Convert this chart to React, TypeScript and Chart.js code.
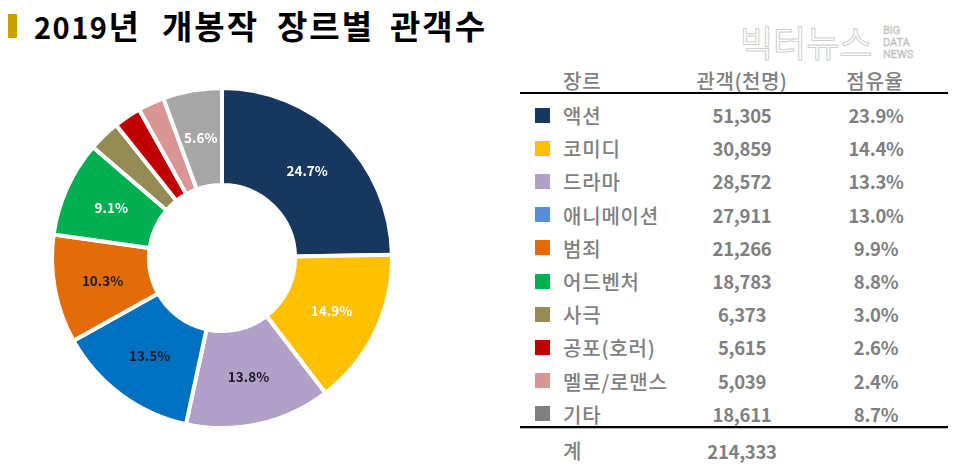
import React, { useEffect, useRef } from 'react';
import { Chart, registerables } from 'chart.js';
Chart.register(...registerables);

const genres = ['액션', '코미디', '드라마', '애니메이션', '범죄', '어드벤처', '사극', '공포(호러)', '멜로/로맨스', '기타'];
const audience = [51305, 30859, 28572, 27911, 21266, 18783, 6373, 5615, 5039, 18611];
const tableShare = [23.9, 14.4, 13.3, 13.0, 9.9, 8.8, 3.0, 2.6, 2.4, 8.7];
const pieShare = [24.7, 14.9, 13.8, 13.5, 10.3, 9.1, 3.0, 2.6, 2.5, 5.6];
const totalAudience = 214333;

const pieColors = ['#17375E', '#FFC000', '#B1A0C7', '#0070C0', '#E36C09', '#00B050', '#948A54', '#C00000', '#DA9694', '#A6A6A6'];
const legendColors = ['#17375E', '#FFC000', '#B1A0C7', '#558ED5', '#E36C09', '#00B050', '#948A54', '#C00000', '#DA9694', '#808080'];
const labelColors = ['#ffffff', '#ffffff', '#1a1a2a', '#1a1a2a', '#1a1a1a', '#ffffff', '#ffffff', '#ffffff', '#ffffff', '#ffffff'];

const FONT = '"Noto Sans CJK KR", "Noto Sans", sans-serif';
const fmt = (n: number) => n.toLocaleString('en-US');

const labelPlugin = {
  id: 'sliceLabels',
  afterDatasetsDraw(chart: any) {
    const ctx = chart.ctx;
    const meta = chart.getDatasetMeta(0);
    ctx.save();
    ctx.font = `bold 13.5px ${FONT}`;
    ctx.textAlign = 'center';
    ctx.textBaseline = 'middle';
    meta.data.forEach((arc: any, i: number) => {
      const v = pieShare[i];
      if (v < 5) return;
      const p = arc.tooltipPosition(false);
      ctx.fillStyle = labelColors[i];
      ctx.fillText(`${v.toFixed(1)}%`, p.x, p.y);
    });
    ctx.restore();
  },
};

function Doughnut() {
  const ref = useRef<HTMLCanvasElement | null>(null);
  useEffect(() => {
    if (!ref.current) return;
    const chart = new Chart(ref.current, {
      type: 'doughnut',
      data: {
        labels: genres,
        datasets: [
          {
            data: pieShare,
            backgroundColor: pieColors,
            borderColor: '#ffffff',
            borderWidth: 4,
          },
        ],
      },
      options: {
        animation: false,
        responsive: false,
        maintainAspectRatio: false,
        radius: 170,
        cutout: '43%',
        layout: { padding: 0 },
        plugins: { legend: { display: false }, tooltip: { enabled: false } },
      },
      plugins: [labelPlugin],
    });
    return () => chart.destroy();
  }, []);
  return (
    <canvas
      ref={ref}
      width={360}
      height={360}
      style={{ position: 'absolute', left: 42, top: 78, width: 360, height: 360 }}
    />
  );
}

export default function App() {
  const gray = '#7F7F7F';
  const rowTop = 115;
  const rowH = 33.2;
  const txt = { position: 'absolute', fontSize: 20, fontWeight: 500, color: gray, whiteSpace: 'nowrap', letterSpacing: 0.8 } as any;
  const num = { position: 'absolute', fontSize: 18.5, fontWeight: 700, color: gray, whiteSpace: 'nowrap', letterSpacing: -0.3, transform: 'translate(-50%,-50%)' } as any;
  const title = { position: 'absolute', top: 5, fontSize: 33, fontWeight: 700, color: '#000', lineHeight: '40px', whiteSpace: 'nowrap', letterSpacing: 2 } as any;
  return (
    <div style={{ position: 'fixed', left: 0, top: 0, width: 960, height: 472, background: '#fff', overflow: 'hidden', fontFamily: FONT }}>
      {/* title */}
      <div style={{ position: 'absolute', left: 8, top: 14, width: 9, height: 24, background: '#CDA000' }} />
      <div style={{ ...title, left: 34 }}>
        <span style={{ fontSize: 29, letterSpacing: 1.5 }}>2019</span>년
      </div>
      <div style={{ ...title, left: 162 }}>개봉작</div>
      <div style={{ ...title, left: 277 }}>장르별</div>
      <div style={{ ...title, left: 390 }}>관객수</div>
      {/* watermark */}
      <div style={{ position: 'absolute', left: 740, top: 18, fontSize: 36, fontWeight: 400, color: '#ffffff', WebkitTextStroke: '1px #cfcfcf', lineHeight: '46px', whiteSpace: 'nowrap' } as any}>
        빅터뉴스
      </div>
      <div style={{ position: 'absolute', left: 883, top: 25, fontSize: 11, color: '#fff', WebkitTextStroke: '0.6px #bdbdbd', lineHeight: '12px', fontFamily: 'Roboto, sans-serif' } as any}>
        BIG<br />DATA<br />NEWS
      </div>

      <Doughnut />

      {/* table header */}
      <div style={{ ...txt, left: 563, top: 80, transform: 'translateY(-50%)' }}>장르</div>
      <div style={{ ...txt, left: 742, top: 80, transform: 'translate(-50%,-50%)', letterSpacing: 0.5 }}>관객(천명)</div>
      <div style={{ ...txt, left: 875, top: 80, transform: 'translate(-50%,-50%)' }}>점유율</div>
      <div style={{ position: 'absolute', left: 520, top: 92, width: 428, height: 2, background: '#000' }} />

      {genres.map((g, i) => {
        const y = rowTop + i * rowH;
        return (
          <React.Fragment key={g}>
            <div style={{ position: 'absolute', left: 535, top: y - 7.5, width: 15, height: 15, background: legendColors[i] }} />
            <div style={{ ...txt, left: 563, top: y, transform: 'translateY(-50%)' }}>{g}</div>
            <div style={{ ...num, left: 742, top: y }}>{fmt(audience[i])}</div>
            <div style={{ ...num, left: 876, top: y }}>{tableShare[i].toFixed(1)}%</div>
          </React.Fragment>
        );
      })}

      <div style={{ position: 'absolute', left: 520, top: 426, width: 428, height: 2, background: '#000' }} />
      <div style={{ position: 'absolute', left: 520, top: 428, width: 428, height: 1, background: '#bbb' }} />
      <div style={{ ...txt, left: 563, top: 450, transform: 'translateY(-50%)' }}>계</div>
      <div style={{ ...num, left: 742, top: 451 }}>{fmt(totalAudience)}</div>
    </div>
  );
}
